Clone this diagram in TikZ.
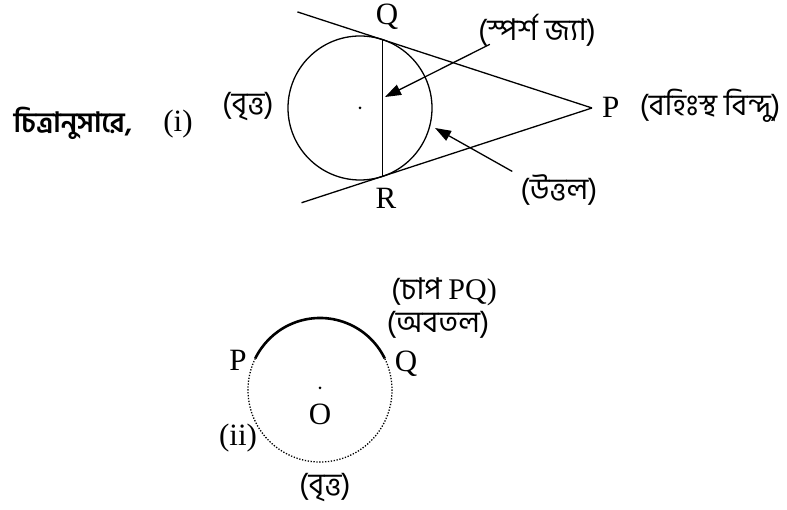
\documentclass[tikz,border=0pt]{standalone}
\usepackage{fontspec}
\setmainfont{Liberation Serif}
\newfontfamily\bn[Script=Bengali]{Hind Siliguri}
\usetikzlibrary{arrows.meta,calc}
\tikzset{
  lbl/.style={inner sep=0pt, font=\fontsize{31}{36}\selectfont},
  bnlbl/.style={inner sep=0pt, font=\fontsize{30}{36}\selectfont\bn},
  pointer/.style={line width=1.3pt, -{Triangle[length=16pt,width=11pt]}},
  geom/.style={line width=1.3pt}
}
\begin{document}
\begin{tikzpicture}[x=1pt,y=1pt]
        \useasboundingbox (0,0) rectangle (787,510);

        % Figura (i): cerchio, corda di contatto e tangenti
        \coordinate (C1) at (360,402);
        \coordinate (P1) at (592,402);
        \coordinate (Q1) at (382.3,470.4);
        \coordinate (R1) at (382.3,333.6);
        \coordinate (Qend) at ($(P1)!1.405!(Q1)$);
        \coordinate (Rend) at ($(P1)!1.385!(R1)$);

        \draw[geom] (C1) circle (72);
        \fill (C1) circle (1.5);
        \draw[geom] (Q1) -- (R1);
        \draw[geom] (P1) -- (Qend);
        \draw[geom] (P1) -- (Rend);

        % Etichette della figura (i)
        \node[lbl] (labQ) at (387,493) {Q};
        \node[lbl] (labR) at (386,312) {R};
        \node[lbl, anchor=west] (labP) at (602,403) {P};
        \node[bnlbl] (ext) at (710,404) {(বহিঃস্থ বিন্দু)};
        \node[bnlbl] (chord) at (537,480) {(স্পর্শ জ্যা)};
        \node[bnlbl] (convex) at (559,320) {(উত্তল)};
        \node[bnlbl] (circ1) at (248,403) {(বৃত্ত)};
        \node[lbl] (num1) at (178,386) {(i)};
        \node[bnlbl, font=\fontsize{28}{32}\selectfont\bn\bfseries] (intro) at (73,387) {চিত্রানুসারে,};

        % Frecce
        \coordinate (chordtip) at (385,413);
        \coordinate (convextip) at (435,382);
        \draw[pointer] (chord.south west) ++(12,2) -- (chordtip);
        \draw[pointer] (convex.north west) ++(-8,3) -- (convextip);

        % Figura (ii): arco PQ
        \coordinate (C2) at (320,120);
        \draw[line width=2.6pt] ($(C2)+(26:72)$) arc[start angle=26, end angle=154, radius=72];
        \draw[line width=1.3pt, dash pattern=on 1.3pt off 1.6pt] ($(C2)+(154:72)$) arc[start angle=154, end angle=386, radius=72];
        \fill (C2) ++(0,2) circle (1.5);

        % Etichette della figura (ii)
        \node[lbl] (labP2) at (238,150) {P};
        \node[lbl] (labQ2) at (406,146) {Q};
        \node[lbl] (labO) at (320,96) {O};
        \node[lbl] (num2) at (238,72) {(ii)};
        \node[bnlbl] (circ2) at (325,22) {(বৃত্ত)};
        \node[bnlbl] (arcPQ) at (444,218) {(চাপ \fontspec{Liberation Serif}PQ)};
        \node[bnlbl] (concave) at (438,185) {(অবতল)};
\end{tikzpicture}
\end{document}
